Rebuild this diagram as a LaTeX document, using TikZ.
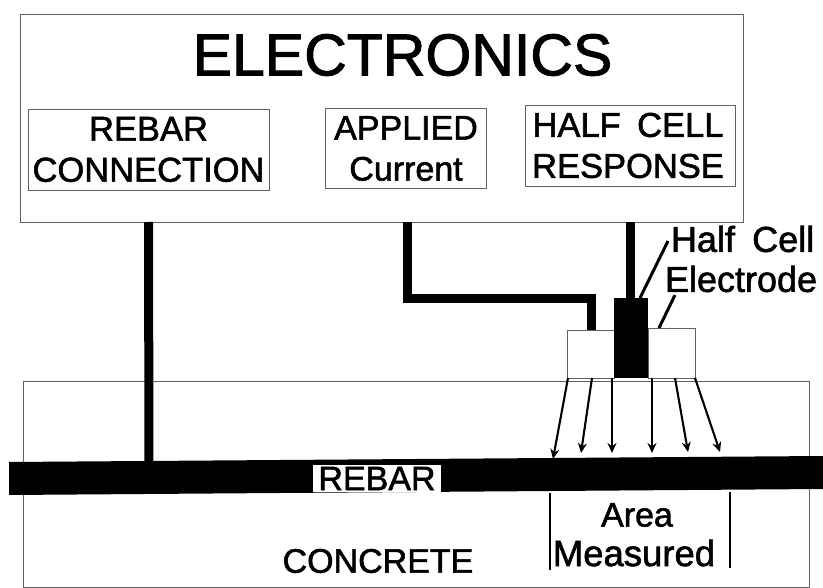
\documentclass[tikz,border=0pt]{standalone}
\usepackage{fontspec}
\setmainfont[FakeBold=1.6]{Liberation Sans}
\usetikzlibrary{arrows.meta,calc}
\tikzset{
 x=1pt,y=-1pt,
 thinbox/.style={draw=black!62,line width=0.9pt,inner sep=0pt,outer sep=0pt,rectangle},
 wire/.style={line width=9pt,line join=miter,black},
 leader/.style={line width=3pt,black},
 ray/.style={line width=2.1pt,black,-{Stealth[length=10pt,width=9pt]}},
 tick/.style={line width=2pt,black},
 lab/.style={inner sep=0pt,outer sep=0pt,align=center,text=black},
}
\begin{document}
\begin{tikzpicture}
\useasboundingbox (0,0) rectangle (823,588);
% concrete
\node[thinbox,minimum width=786pt,minimum height=206pt] (concrete) at (416,484) {};
% electronics
\node[thinbox,minimum width=723pt,minimum height=208pt] (electronics) at (381.5,118) {};
\node[thinbox,minimum width=241pt,minimum height=81pt] (rebarconn) at (148.5,149.5) {};
\node[thinbox,minimum width=161pt,minimum height=80pt] (applied) at (405.5,148) {};
\node[thinbox,minimum width=210pt,minimum height=81pt] (halfresp) at (630,145.5) {};
\node[lab,font=\fontsize{59}{59}\selectfont] (title) at (402.5,55) {ELECTRONICS};
\node[lab,font=\fontsize{34.5}{41}\selectfont] (t1) at (148.5,149.5) {REBAR\\CONNECTION};
\node[lab,font=\fontsize{34}{41}\selectfont] (t2) at (406,148.5) {APPLIED\\Current};
\node[lab,font=\fontsize{34.5}{41}\selectfont] (t3) at (628,145.5) {HALF\hspace{0.2em} CELL\\RESPONSE};
% counter electrode
\node[thinbox,minimum width=47pt,minimum height=48pt] (ceL) at (590.5,354) {};
\node[thinbox,minimum width=47pt,minimum height=50pt] (ceR) at (671.5,353) {};
\node[fill=black,inner sep=0pt,outer sep=0pt,minimum width=34pt,minimum height=80pt] (cell) at (631,338) {};
% rebar
\fill[black] (9,462) coordinate (barTL) -- (823,456) -- (823,489) -- (9,495) -- cycle;
\coordinate (barC) at (149,462);
\node[fill=white,lab,minimum width=128pt,minimum height=27pt,font=\fontsize{34}{34}\selectfont] (rebar) at (377,478.5) {REBAR};
% wires
\draw[wire] (electronics.south -| rebarconn.south) -- (barC);
\draw[wire] (electronics.south -| applied.south) ++(1.5,0) coordinate (w2a) -- (w2a |- 0,299) -| ($(ceL.north)+(0.5,0)$);
\coordinate (w3b) at ($(cell.north)+(-1,0)$);
\draw[wire] (electronics.south -| w3b) -- (w3b);
% labels
\node[lab,anchor=west,font=\fontsize{36}{41}\selectfont] (hc1) at (671,239) {Half\hspace{0.2em} Cell};
\node[lab,anchor=west,font=\fontsize{36}{41}\selectfont] (hc2) at (665,279) {Electrode};
\coordinate (l1a) at (668,241); \coordinate (l2a) at (675,295);
\draw[leader] (l1a) -- (cell.north -| 640,0);
\draw[leader] (l2a) -- ($(ceR.north)+(-12.5,0)$);
% rays
\coordinate (r1a) at (568,378); \coordinate (r1b) at (553,459);
\coordinate (r2a) at (592,378); \coordinate (r2b) at (581,453);
\coordinate (r3a) at (612,378); \coordinate (r3b) at (612,453);
\coordinate (r4a) at (652,378); \coordinate (r4b) at (652,453);
\coordinate (r5a) at (675,378); \coordinate (r5b) at (688,452);
\coordinate (r6a) at (695,378); \coordinate (r6b) at (720,452);
\foreach \i in {1,...,6}{\draw[ray] (r\i a) -- (r\i b);}
% area measured
\node[lab,font=\fontsize{34}{34}\selectfont] (area) at (637,515) {Area};
\node[lab,font=\fontsize{36.5}{36}\selectfont] (meas) at (634,553) {Measured};
\coordinate (t1a) at (550,493); \coordinate (t1b) at (550,570);
\coordinate (t2a) at (730,492); \coordinate (t2b) at (730,568);
\draw[tick] (t1a) -- (t1b);
\draw[tick] (t2a) -- (t2b);
\node[lab,font=\fontsize{34}{34}\selectfont] (conc) at (378,561) {CONCRETE};
\end{tikzpicture}
\end{document}
